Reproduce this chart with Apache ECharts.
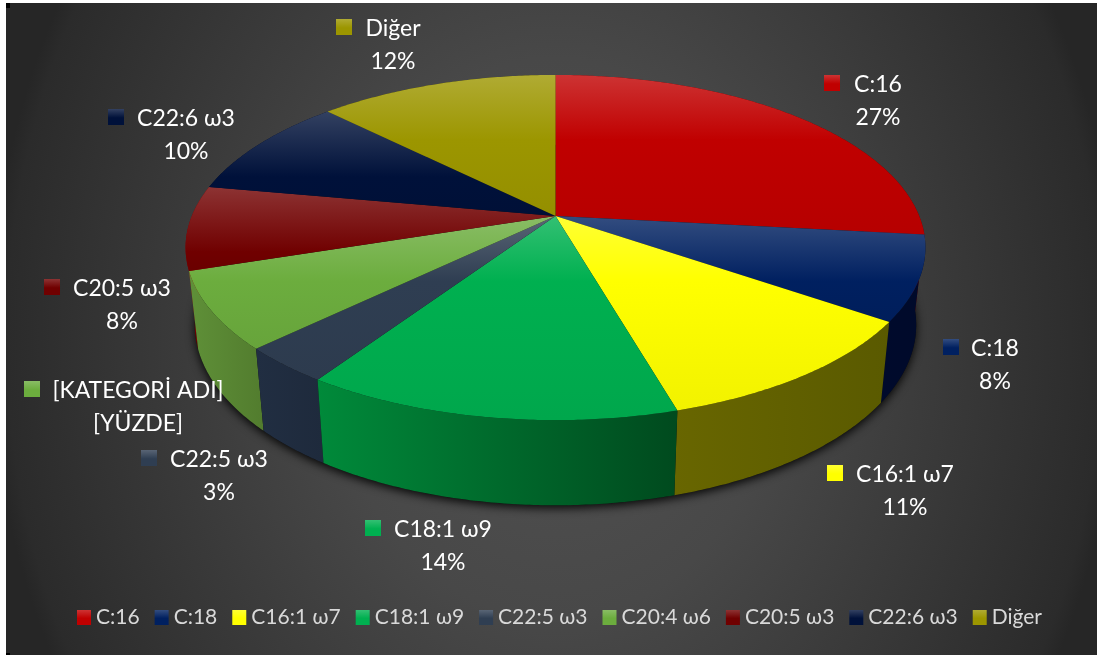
<!DOCTYPE html>
<html>
<head>
<meta charset="utf-8">
<style>
  html, body { margin: 0; padding: 0; background: #fff; }
  #panel {
    position: absolute; left: 6px; top: 3px; width: 1091px; height: 652px;
    background: radial-gradient(ellipse 565px 700px at 549px 335px, #525252 0%, #484848 40%, #2b2b2b 97%, #262626 100%);
  }
  .handle { position: absolute; background: #000; width: 4px; }
  #chart { position: absolute; left: 0; top: 0; width: 1097px; height: 655px; }
</style>
<script src="https://cdn.jsdelivr.net/npm/echarts@6/dist/echarts.min.js"></script>
</head>
<body>
<div id="panel"></div>
<div class="handle" style="left:6px;top:3px;height:5px"></div>
<div class="handle" style="left:6px;top:653px;height:2px"></div>
<div id="chart"></div>
<script>
const categories = ['C:16', 'C:18', 'C16:1 ω7', 'C18:1 ω9', 'C22:5 ω3', 'C20:4 ω6', 'C20:5 ω3', 'C22:6 ω3', 'Diğer']
const values = [26.7, 7.9, 10.9, 13.8, 3.4, 7.2, 7.9, 9.6, 12.5]
const labelNames = ['C:16', 'C:18', 'C16:1 ω7', 'C18:1 ω9', 'C22:5 ω3', '[KATEGORİ ADI]', 'C20:5 ω3', 'C22:6 ω3', 'Diğer']
const labelValues = ['27%', '8%', '11%', '14%', '3%', '[YÜZDE]', '8%', '10%', '12%']

// face and wall colours, same order as categories
const faceColors = ['#c00000', '#002060', '#ffff00', '#00b050', '#2f3e52', '#6cad3e', '#700000', '#00113a', '#9c9600']
const wallColors = [
  ['#600000', '#600000'], ['#000a2c', '#000a2a'], ['#686600', '#5a5a00'],
  ['#008a3a', '#004a1e'], ['#212e42', '#1e2a3c'], ['#5f9038', '#527c2e'],
  ['#800000', '#700000'], ['#000822', '#000822'], ['#4e4b00', '#4e4b00']
]
// where each label block sits: swatch left, first line centre y, text centre x
const labelSpots = [
  [824, 84, 878], [943, 348, 995], [827, 474, 905], [365, 529, 443], [141, 459, 219],
  [24, 390, 138], [44, 288, 122], [108, 118, 186], [336, 28, 393]
]

// pie geometry, the disc is drawn in perspective
const cx = 555.5, cy = 216, Rx = 363.7, Ry = 166.8, tilt = 0.1827
const baseY = 292, baseScaleX = 0.975, baseScaleY = 1.045
const bandHeight = 65

const total = values.reduce((a, b) => a + b, 0)
const startAngles = []
values.reduce((acc, v, i) => {
  startAngles[i] = (acc / total) * Math.PI * 2
  return acc + v
}, 0)

const topPoint = (theta) => {
  const u = Math.sin(theta), v = -Math.cos(theta)
  const s = 1 / (1 - tilt * v)
  return [cx + Rx * u * s, cy + Ry * v * s]
}
const basePoint = (theta) => {
  const p = topPoint(theta)
  return [cx + (p[0] - cx) * baseScaleX, baseY + (p[1] - cy) * baseScaleY]
}
const arc = (fn, from, to) => {
  const n = Math.max(2, Math.ceil(Math.abs(to - from) / 0.01))
  const pts = []
  for (let i = 0; i <= n; i++) pts.push(fn(from + ((to - from) * i) / n))
  return pts
}
const mix = (hex, target, t) => {
  const c = [1, 3, 5].map((i) => parseInt(hex.slice(i, i + 2), 16))
  return 'rgb(' + c.map((x) => Math.round(x + (target - x) * t)).join(',') + ')'
}
const faceFill = (color, height) => {
  const stop = Math.min(0.95, bandHeight / height)
  return new echarts.graphic.LinearGradient(0, 0, 0, 1, [
    { offset: 0, color: mix(color, 255, 0.2) },
    { offset: stop, color: color },
    { offset: 1, color: mix(color, 0, 0.05) }
  ])
}
const swatchFill = (color) => new echarts.graphic.LinearGradient(0, 0, 0, 1, [
  { offset: 0, color: mix(color, 255, 0.2) },
  { offset: 0.55, color: color },
  { offset: 1, color: color }
])

const renderShadow = () => ({
  type: 'polygon',
  silent: true,
  shape: { points: arc(basePoint, 0, Math.PI * 2) },
  style: { fill: '#0c0c0c', shadowBlur: 10, shadowColor: 'rgba(0,0,0,0.9)', shadowOffsetY: 3 }
})

const renderWall = (params, api) => {
  const i = api.value(0)
  const from = startAngles[i]
  const to = from + (values[i] / total) * Math.PI * 2
  const points = arc(topPoint, from, to).concat(arc(basePoint, to, from))
  return {
    type: 'polygon',
    silent: true,
    shape: { points },
    style: {
      fill: new echarts.graphic.LinearGradient(0, 0, 1, 0, [
        { offset: 0, color: wallColors[i][0] },
        { offset: 1, color: wallColors[i][1] }
      ])
    }
  }
}

const renderSlice = (params, api) => {
  const i = api.value(0)
  const from = startAngles[i]
  const to = from + (values[i] / total) * Math.PI * 2
  const points = [[cx, cy]].concat(arc(topPoint, from, to))
  const ys = points.map((p) => p[1])
  const spot = labelSpots[i]
  return {
    type: 'group',
    children: [
      {
        type: 'polygon',
        shape: { points },
        style: { fill: faceFill(faceColors[i], Math.max(...ys) - Math.min(...ys)) }
      },
      {
        type: 'rect',
        shape: { x: spot[0], y: spot[1] - 9, width: 16, height: 16 },
        style: { fill: swatchFill(faceColors[i]) }
      },
      {
        type: 'text',
        style: {
          x: spot[2], y: spot[1] + 1, text: labelNames[i], fill: '#ffffff',
          fontFamily: 'Lato', fontSize: 23, align: 'center', verticalAlign: 'middle'
        }
      },
      {
        type: 'text',
        style: {
          x: spot[2], y: spot[1] + 34, text: labelValues[i], fill: '#ffffff',
          fontFamily: 'Lato', fontSize: 23, align: 'center', verticalAlign: 'middle'
        }
      }
    ]
  }
}

// back walls first so the front ones overlap them
const wallOrder = categories
  .map((_, i) => i)
  .sort((a, b) => {
    const mid = (i) => startAngles[i] + (values[i] / total) * Math.PI
    return Math.abs(mid(b) - Math.PI) - Math.abs(mid(a) - Math.PI)
  })

const chart = echarts.init(document.getElementById('chart'))
chart.setOption({
  animation: false,
  backgroundColor: 'transparent',
  legend: {
    data: categories,
    icon: 'rect',
    left: 72,
    top: 602,
    itemWidth: 14,
    itemHeight: 15,
    itemGap: 15,
    selectedMode: false,
    textStyle: { color: '#d9d9d9', fontFamily: 'Lato', fontSize: 21 }
  },
  series: [
    { type: 'custom', name: 'shadow', coordinateSystem: 'none', silent: true, renderItem: renderShadow, data: [[0]] },
    {
      type: 'custom', name: 'walls', coordinateSystem: 'none', silent: true,
      renderItem: renderWall, data: wallOrder.map((i) => [i])
    },
    ...categories.map((name, i) => ({
      type: 'custom',
      name,
      coordinateSystem: 'none',
      silent: true,
      itemStyle: { color: swatchFill(faceColors[i]) },
      renderItem: renderSlice,
      data: [[i, values[i]]]
    }))
  ]
})

window.addEventListener('resize', () => chart.resize())
</script>
</body>
</html>
